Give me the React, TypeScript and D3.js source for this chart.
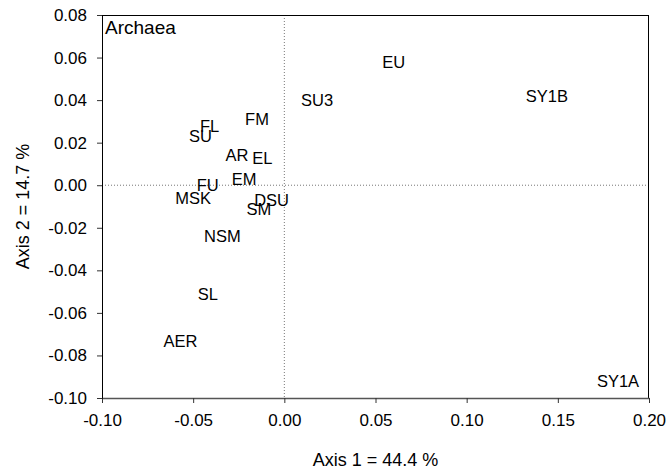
import React, { useEffect, useRef } from 'react';
import * as d3 from 'd3';

// sample labels and their ordination scores
const sites = ['EU', 'SU3', 'SY1B', 'FM', 'FL', 'SU', 'AR', 'EL', 'EM', 'FU', 'MSK', 'DSU', 'SM', 'NSM', 'SL', 'AER', 'SY1A'];
const axis1 = [0.060, 0.018, 0.144, -0.015, -0.041, -0.046, -0.026, -0.012, -0.022, -0.042, -0.050, -0.007, -0.014, -0.034, -0.042, -0.057, 0.183];
const axis2 = [0.058, 0.040, 0.042, 0.031, 0.028, 0.023, 0.014, 0.013, 0.003, 0.000, -0.006, -0.007, -0.011, -0.024, -0.051, -0.073, -0.092];

const xTicks = [-0.10, -0.05, 0.00, 0.05, 0.10, 0.15, 0.20];
const yTicks = [0.08, 0.06, 0.04, 0.02, 0.00, -0.02, -0.04, -0.06, -0.08, -0.10];

const App = () => {
  const svgRef = useRef<SVGSVGElement | null>(null);

  useEffect(() => {
    if (!svgRef.current) return;
    const svg = d3.select(svgRef.current);
    svg.selectAll('*').remove();

    const width = 670;
    const height = 474;
    const margin = { top: 15, right: 21, bottom: 76, left: 102 };
    const innerW = width - margin.left - margin.right;
    const innerH = height - margin.top - margin.bottom;
    const font = 'Arial, "Liberation Sans", sans-serif';

    const x = d3.scaleLinear().domain([-0.10, 0.20]).range([0, innerW]);
    const y = d3.scaleLinear().domain([-0.10, 0.08]).range([innerH, 0]);

    const g = svg.append('g').attr('transform', `translate(${margin.left},${margin.top})`);

    // zero reference lines
    g.append('line')
      .attr('x1', x(0)).attr('x2', x(0))
      .attr('y1', 0).attr('y2', innerH)
      .attr('stroke', '#777').attr('stroke-dasharray', '1,2');
    g.append('line')
      .attr('x1', 0).attr('x2', innerW)
      .attr('y1', y(0)).attr('y2', y(0))
      .attr('stroke', '#777').attr('stroke-dasharray', '1,2');

    // frame (top, right)
    g.append('line').attr('x1', 0).attr('x2', innerW).attr('y1', 0.5).attr('y2', 0.5).attr('stroke', '#000');
    g.append('line').attr('x1', innerW - 0.5).attr('x2', innerW - 0.5).attr('y1', 0).attr('y2', innerH).attr('stroke', '#000');

    // axes (hyphen minus like the original)
    const fmt = (d: number) => d3.format('.2f')(d).replace('−', '-');
    const xAxis = g.append('g')
      .attr('transform', `translate(0,${innerH})`)
      .call(d3.axisBottom(x).tickValues(xTicks).tickFormat(d => fmt(d as number)).tickSize(5).tickSizeOuter(0).tickPadding(11));
    xAxis.select('.domain').attr('stroke', '#555').attr('stroke-width', 1.5);
    xAxis.selectAll('.tick line').attr('stroke', '#333');
    xAxis.selectAll('text').attr('font-family', font).attr('font-size', 17).attr('fill', '#000');

    const yAxis = g.append('g')
      .call(d3.axisLeft(y).tickValues(yTicks).tickFormat(d => fmt(d as number)).tickSize(5).tickSizeOuter(0).tickPadding(10));
    yAxis.select('.domain').attr('stroke', '#000');
    yAxis.selectAll('.tick line').attr('stroke', '#333');
    yAxis.selectAll('text').attr('font-family', font).attr('font-size', 17).attr('fill', '#000');

    // site labels
    g.append('g')
      .selectAll('text')
      .data(sites)
      .join('text')
      .attr('x', (_, i) => x(axis1[i]))
      .attr('y', (_, i) => y(axis2[i]))
      .attr('text-anchor', 'middle')
      .attr('dominant-baseline', 'central')
      .attr('font-family', font)
      .attr('font-size', 16.5)
      .attr('fill', '#000')
      .text(d => d);

    // panel title
    g.append('text')
      .attr('x', 3).attr('y', 19)
      .attr('font-family', font).attr('font-size', 19)
      .attr('fill', '#000')
      .text('Archaea');

    // axis titles
    svg.append('text')
      .attr('x', margin.left + innerW / 2)
      .attr('y', 466)
      .attr('text-anchor', 'middle')
      .attr('font-family', font).attr('font-size', 18)
      .text('Axis 1 = 44.4 %');

    svg.append('text')
      .attr('transform', `translate(29,${margin.top + innerH / 2}) rotate(-90)`)
      .attr('text-anchor', 'middle')
      .attr('font-family', font).attr('font-size', 18)
      .text('Axis 2 = 14.7 %');
  }, []);

  return (
    <svg ref={svgRef} width={670} height={474}
      style={{ position: 'absolute', left: 0, top: 0, background: '#fff' }} />
  );
};

export default App;
